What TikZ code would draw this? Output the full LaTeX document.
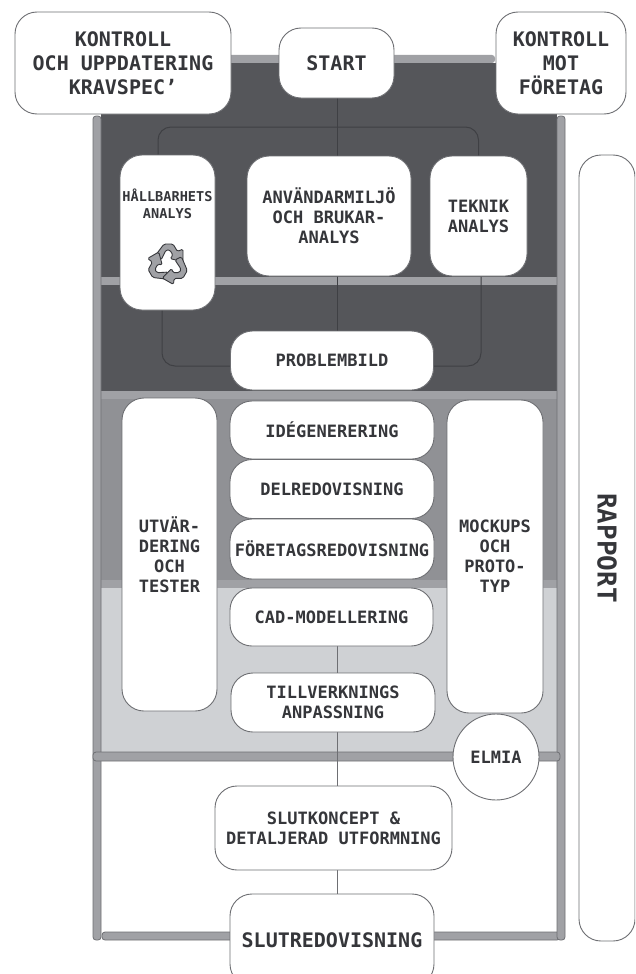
\documentclass[tikz,border=0pt]{standalone}
\usepackage{fontspec}
\setmainfont{DejaVu Sans Mono}
\usetikzlibrary{backgrounds}
\definecolor{darkzone}{HTML}{55565A}
\definecolor{midzone}{HTML}{909195}
\definecolor{lightzone}{HTML}{CFD1D4}
\definecolor{bandgrey}{HTML}{A0A1A5}
\definecolor{edgegrey}{HTML}{6E6F73}
\definecolor{inkgrey}{HTML}{35363A}
\definecolor{darkline}{HTML}{3F4044}
\tikzset{
  x=1pt,y=-1pt,
  zone/.style={fill=#1,draw=none},
  band/.style={fill=bandgrey,draw=edgegrey,line width=0.8pt,rounded corners=3pt},
  softband/.style={fill=bandgrey,draw=none},
  conn/.style={draw=#1,line width=1pt},
  conn/.default=edgegrey,
  box/.style={draw=edgegrey,fill=white,line width=0.9pt,rounded corners=22pt,inner sep=0pt,align=center,text=inkgrey,font=\fontsize{17}{20}\selectfont\bfseries},
  bigbox/.style={box,font=\fontsize{20}{24}\selectfont\bfseries},
  rec/.style={fill=bandgrey,draw=inkgrey,line width=0.9pt,line join=round}
}
\begin{document}
\begin{tikzpicture}
\clip (0,0) rectangle (635,974);
\useasboundingbox (0,0) rectangle (635,974);
\begin{pgfonlayer}{background}
  \fill[white] (0,0) rectangle (635,974);
  \path[zone=darkzone] (101,63) rectangle (557,392);
  \path[zone=midzone] (101,392) rectangle (557,584);
  \path[zone=lightzone] (101,584) rectangle (557,756);
  \path[softband] (101,277) rectangle (557,284.5);
  \path[softband] (101,390.5) rectangle (557,398.5);
  \path[softband] (101,580) rectangle (557,588);
  \draw[softband,rounded corners=3pt] (225,55) rectangle (495,63);
  \draw[band] (102,932) rectangle (560,940);
  \draw[band] (93,116) rectangle (101,940);
  \draw[band] (557,116) rectangle (565,940);
  \draw[band] (93,752) rectangle (560,761);
\end{pgfonlayer}

\node[bigbox,minimum width=216pt,minimum height=102pt] (kravspec) at (123,63) {KONTROLL\\OCH UPPDATERING\\KRAVSPEC'};
\node[bigbox,minimum width=115pt,minimum height=70pt] (start) at (336.5,63) {START};
\node[bigbox,minimum width=130pt,minimum height=102pt] (foretag) at (561,63) {KONTROLL\\MOT\\FÖRETAG};
\node[box,minimum width=56pt,minimum height=786pt,font=\fontsize{26}{30}\selectfont\bfseries] (rapport) at (607,548) {\rotatebox{-90}{RAPPORT}};

\node[box,minimum width=95pt,minimum height=155pt] (hall) at (167.5,232.5) {};
\node[inner sep=0pt,align=center,text=inkgrey,font=\fontsize{13.6}{17}\selectfont\bfseries] (halltext) at (167.5,203.5) {HÅLLBARHETS\\ANALYS};
\node[box,minimum width=164pt,minimum height=120pt] (anv) at (329,216) {ANVÄNDARMILJÖ\\OCH BRUKAR-\\ANALYS};
\node[box,minimum width=97pt,minimum height=120pt] (teknik) at (478.5,216) {TEKNIK\\ANALYS};
\node[box,minimum width=203pt,minimum height=59pt] (prob) at (332,360.5) {PROBLEMBILD};

\node[box,minimum width=95pt,minimum height=313pt] (utv) at (169.5,554.5) {UTVÄR-\\DERING\\OCH\\TESTER};
\node[box,minimum width=204pt,minimum height=58pt] (ide) at (332,430) {IDÉGENERERING};
\node[box,minimum width=204pt,minimum height=59pt] (del) at (332,489) {DELREDOVISNING};
\node[box,minimum width=204pt,minimum height=60pt] (fore) at (332,549) {FÖRETAGSREDOVISNING};
\node[box,minimum width=203pt,minimum height=58pt] (cad) at (331.5,617) {CAD-MODELLERING};
\node[box,minimum width=204pt,minimum height=59pt] (till) at (333,702.5) {TILLVERKNINGS\\ANPASSNING};
\node[box,minimum width=96pt,minimum height=313pt] (mock) at (495,556.5) {MOCKUPS\\OCH\\PROTO-\\TYP};
\node[box,circle,rounded corners=0pt,minimum size=86pt] (elmia) at (496,757) {ELMIA};
\node[box,minimum width=237pt,minimum height=84pt] (koncept) at (333.5,828) {SLUTKONCEPT \&\\DETALJERAD UTFORMNING};
\node[bigbox,minimum width=204pt,minimum height=92pt] (slut) at (332,940) {SLUTREDOVISNING};

% recycling symbol
\foreach \a in {0,120,240}{
  \begin{scope}[shift={(168,264)},y=1pt,rotate=\a]
    \path[rec,rounded corners=1.5pt] (-13,8) -- (-4,20) -- (5,20) -- (9.5,12.5) -- (15,15) -- (15,2) -- (2,5.5) -- (5,8.5) -- (2,14) -- (-2,14) -- (-7,4) -- cycle;
  \end{scope}
}

\coordinate (ctop) at (320,127);
\coordinate (pl) at (231,366);
\coordinate (pr) at (433,366);
\coordinate (al) at (337,276);
\coordinate (at) at (337,156);
\coordinate (pt) at (337,331);
\coordinate (cb) at (337,646);
\coordinate (tt) at (337,673);
\coordinate (tb) at (337,732);
\coordinate (kt) at (337,786);
\coordinate (kb) at (337,870);
\coordinate (st) at (337,894);
\begin{pgfonlayer}{background}
  \draw[conn=darkline] (start.south -| at) -- (at);
  \draw[conn=darkline] (al) -- (pt);
  \draw[conn=darkline,rounded corners=13pt] ([xshift=-9.5pt]hall.north) |- (ctop) -| (teknik.north);
  \draw[conn=darkline,rounded corners=13pt] ([xshift=-5.5pt]hall.south) |- (pl);
  \draw[conn=darkline,rounded corners=13pt] ([xshift=2.5pt]teknik.south) |- (pr);
  \draw[conn] (cb) -- (tt);
  \draw[conn] (tb) -- (kt);
  \draw[conn] (kb) -- (st);
\end{pgfonlayer}
\end{tikzpicture}
\end{document}
